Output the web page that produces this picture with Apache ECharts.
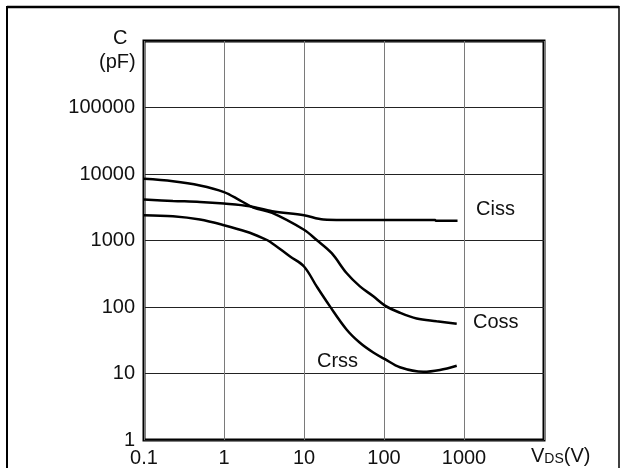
<!DOCTYPE html>
<html>
<head>
<meta charset="utf-8">
<script src="https://cdn.jsdelivr.net/npm/echarts@6/dist/echarts.min.js"></script>
<style>
  html, body { margin: 0; padding: 0; background: #fff; }
  #chart { width: 622px; height: 468px; }
</style>
</head>
<body>
<div id="chart"></div>
<script>
// ticks shown on the axes
const xTicks = [0.1, 1, 10, 100, 1000]
const yTicks = [1, 10, 100, 1000, 10000, 100000]

// [VDS (V), C (pF)]
const ciss = [
  [0.1, 4120], [0.23, 3930], [0.5, 3800], [1, 3590], [2.1, 3270],
  [4, 2750], [10, 2400], [17.5, 2070], [30, 2040], [100, 2040],
  [435, 2030], [445, 1980], [830, 1980]
]
const coss = [
  [0.1, 8480], [0.23, 7800], [0.5, 6730], [1, 5350], [1.58, 4020],
  [2.33, 3130], [4, 2600], [10, 1450], [14.4, 1016], [22.2, 644],
  [34, 324], [50, 204], [73.5, 145], [103, 105], [158, 82],
  [256, 67], [455, 61], [811, 56]
]
const crss = [
  [0.1, 2400], [0.23, 2320], [0.5, 2070], [1, 1700], [1.92, 1352],
  [3.1, 1078], [3.76, 960], [6.7, 573], [10, 407], [14.4, 204],
  [21, 103], [34, 46], [50, 29], [73.5, 20.7], [103, 16.4],
  [158, 12.4], [310, 10.6], [500, 11.3], [811, 13.1]
]

const font = 'Liberation Sans, Arial, Helvetica, sans-serif'

const chart = echarts.init(document.getElementById('chart'), null, { renderer: 'canvas' })

const curve = data => ({
  type: 'line',
  data,
  symbol: 'none',
  smooth: 0.35,
  lineStyle: { color: '#000', width: 2.5 },
  silent: true
})

chart.setOption({
  animation: false,
  backgroundColor: '#fff',
  grid: {
    left: 144,
    top: 41,
    width: 400,
    height: 400,
    show: true,
    borderColor: '#000',
    borderWidth: 3,
    backgroundColor: 'transparent'
  },
  xAxis: {
    type: 'log',
    logBase: 10,
    min: 0.1,
    max: 10000,
    axisLine: { show: false },
    axisTick: { show: false },
    splitLine: { show: true, lineStyle: { color: '#7a7a7a', width: 1 } },
    axisLabel: {
      color: '#111',
      fontFamily: font,
      fontSize: 20,
      margin: 8,
      formatter: v => {
        const r = Math.round(v * 10) / 10
        return xTicks.includes(r) ? String(r) : ''
      }
    }
  },
  yAxis: {
    type: 'log',
    logBase: 10,
    min: 1,
    max: 1000000,
    axisLine: { show: false },
    axisTick: { show: false },
    splitLine: { show: true, lineStyle: { color: '#222', width: 1 } },
    axisLabel: {
      color: '#111',
      fontFamily: font,
      fontSize: 20,
      margin: 9,
      formatter: v => {
        const r = Math.round(v)
        return yTicks.includes(r) ? String(r) : ''
      }
    }
  },
  graphic: [
    // outer frame
    { type: 'line', shape: { x1: 7, y1: 7, x2: 619, y2: 7 }, style: { stroke: '#000', lineWidth: 2.5 } },
    { type: 'line', shape: { x1: 7, y1: 6, x2: 7, y2: 468 }, style: { stroke: '#000', lineWidth: 2 } },
    { type: 'line', shape: { x1: 619, y1: 6, x2: 619, y2: 468 }, style: { stroke: '#000', lineWidth: 1.5 } },
    // axis titles
    { type: 'text', left: 113, top: 28, style: { text: 'C', font: `20px ${font}`, fill: '#111' } },
    { type: 'text', left: 99, top: 52, style: { text: '(pF)', font: `20px ${font}`, fill: '#111' } },
    {
      type: 'text', left: 531, top: 446,
      style: {
        text: '{a|V}{b|DS}{a|(V)}',
        rich: {
          a: { fontFamily: font, fontSize: 20, fill: '#111', verticalAlign: 'bottom' },
          b: { fontFamily: font, fontSize: 14, fill: '#111', verticalAlign: 'bottom' }
        }
      }
    },
    // curve names
    { type: 'text', left: 476, top: 199, style: { text: 'Ciss', font: `20px ${font}`, fill: '#111' } },
    { type: 'text', left: 473, top: 312, style: { text: 'Coss', font: `20px ${font}`, fill: '#111' } },
    { type: 'text', left: 317, top: 351, style: { text: 'Crss', font: `20px ${font}`, fill: '#111' } }
  ],
  series: [curve(ciss), curve(coss), curve(crss)]
})
</script>
</body>
</html>
